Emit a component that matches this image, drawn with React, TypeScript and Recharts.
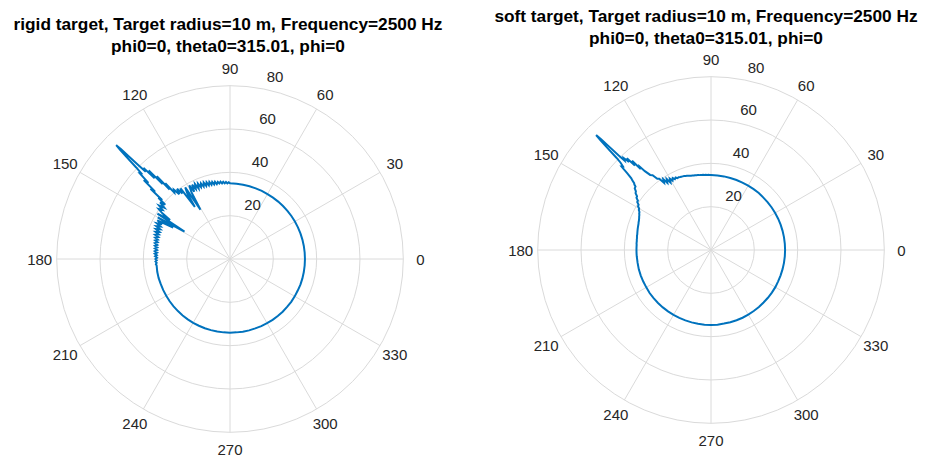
import React from 'react';
import { RadarChart, Radar, PolarGrid, PolarAngleAxis, PolarRadiusAxis } from 'recharts';

// Angle samples (degrees) shared by both panels
const angleDeg = [
  0, 5, 10, 15, 20, 25, 30, 35, 40, 45, 50, 55, 60, 65, 70, 75, 80, 85,
  90, 91, 92, 93, 94, 95, 96, 97, 98, 99, 100, 101, 102, 103, 104, 105, 106, 107, 108, 109,
  110, 111, 112, 113, 114, 115, 116, 117, 118, 119, 120, 121, 122, 123, 124, 125, 126, 127, 128, 129,
  130, 130.5, 131, 131.5, 132, 132.5, 133, 133.5, 134, 134.3, 134.6, 134.8, 135, 135.2, 135.4, 135.7,
  136, 136.5, 137, 137.5, 138, 138.5, 139, 139.5,
  140, 141, 142, 143, 144, 145, 146, 147, 148, 149, 150, 151, 152, 153, 154, 155, 156, 157, 158, 159,
  160, 161, 162, 163, 164, 165, 166, 167, 168, 169, 170, 171, 172, 173, 174, 175, 176, 177, 178, 179,
  180, 181, 182, 183, 184, 185,
  190, 195, 200, 205, 210, 215, 220, 225, 230, 235, 240, 245, 250, 255, 260, 265, 270, 275, 280, 285,
  290, 295, 300, 305, 310, 315, 320, 325, 330, 335, 340, 345, 350, 355,
];

// rigid target level
const rigidLevel = [
  34.6, 34.6, 34.6, 34.6, 34.6, 34.6, 34.6, 34.6, 34.6, 34.6, 34.6, 34.6, 34.6, 34.7, 34.7, 34.8, 34.8, 34.9,
  35.0, 35.4, 34.9, 35.6, 35.0, 35.8, 35.1, 36.0, 35.2, 36.0, 35.1, 36.3, 35.2, 36.5, 35.3, 36.8, 35.4, 37.0, 35.5, 37.3,
  35.6, 37.4, 35.8, 37.8, 35.6, 38.2, 36.0, 38.5, 35.2, 38.8, 35.6, 26.5, 39.0, 36.2, 29.0, 39.8, 37.4, 40.6, 38.0, 41.2,
  40.0, 46.0, 42.5, 51.0, 46.5, 55.5, 51.0, 58.0, 56.0, 60.5, 67.0, 71.5, 74.3, 71.5, 67.0, 60.5,
  57.0, 57.5, 51.5, 54.0, 46.5, 49.0, 41.5, 43.5,
  39.0, 41.5, 38.5, 41.0, 38.5, 40.2, 37.5, 33.0, 39.5, 24.5, 38.5, 30.0, 38.0, 35.2, 37.6, 35.4, 37.2, 35.0, 36.9, 34.9,
  36.6, 34.8, 36.3, 34.6, 35.9, 34.5, 35.6, 34.3, 35.4, 34.2, 35.2, 34.0, 35.0, 33.9, 34.9, 33.8, 34.8, 33.8, 34.6, 33.7,
  34.4, 33.8, 34.4, 33.9, 34.3, 34.0,
  34.1, 34.1, 34.0, 34.0, 34.0, 34.0, 34.0, 34.0, 34.0, 34.0, 34.0, 34.0, 34.0, 34.0, 34.0, 34.0, 34.0, 34.0, 34.1, 34.1,
  34.1, 34.2, 34.2, 34.3, 34.3, 34.4, 34.4, 34.5, 34.5, 34.5, 34.6, 34.6, 34.6, 34.6,
];

// soft target level
const softLevel = [
  34.2, 34.2, 34.2, 34.2, 34.2, 34.2, 34.2, 34.2, 34.2, 34.2, 34.3, 34.3, 34.3, 34.3, 34.4, 34.4, 34.5, 34.5,
  34.6, 34.6, 34.7, 34.7, 34.8, 34.8, 34.9, 34.9, 35.0, 35.0, 35.1, 35.2, 35.3, 35.3, 35.4, 35.5, 35.7, 35.8, 36.0, 36.1,
  36.3, 36.4, 36.5, 36.6, 36.8, 36.6, 37.2, 36.7, 37.6, 36.6, 38.0, 36.3, 38.6, 37.0, 39.4, 37.8, 40.6, 41.2, 43.8, 44.6,
  47.5, 50.5, 49.5, 55.0, 52.5, 57.5, 55.5, 58.5, 57.5, 61.0, 67.5, 72.0, 75.0, 72.0, 67.5, 61.0,
  58.0, 56.0, 56.5, 52.5, 49.5, 48.5, 47.0, 46.5,
  45.5, 45.3, 44.0, 43.6, 42.2, 42.0, 40.7, 40.6, 39.4, 39.3, 38.3, 38.1, 37.4, 37.2, 36.8, 36.6, 36.3, 36.1, 35.9, 35.8,
  35.6, 35.5, 35.4, 35.3, 35.2, 35.1, 35.0, 34.9, 34.8, 34.8, 34.7, 34.6, 34.6, 34.5, 34.5, 34.5, 34.4, 34.4, 34.4, 34.4,
  34.4, 34.4, 34.4, 34.4, 34.4, 34.4,
  34.4, 34.5, 34.5, 34.5, 34.5, 34.6, 34.6, 34.6, 34.6, 34.6, 34.6, 34.6, 34.6, 34.6, 34.6, 34.6, 34.6, 34.6, 34.5, 34.5,
  34.5, 34.5, 34.4, 34.4, 34.4, 34.3, 34.3, 34.3, 34.3, 34.2, 34.2, 34.2, 34.2, 34.2,
];

const angleTicks = [0, 30, 60, 90, 120, 150, 180, 210, 240, 270, 300, 330];
const radiusTicks = [0, 20, 40, 60, 80];

const rigidTitle = ['rigid target, Target radius=10 m, Frequency=2500 Hz', 'phi0=0, theta0=315.01, phi=0'];
const softTitle = ['soft target, Target radius=10 m, Frequency=2500 Hz', 'phi0=0, theta0=315.01, phi=0'];

const chartData = angleDeg.map((a, i) => ({ angle: a, rigid: rigidLevel[i], soft: softLevel[i] }));

const FONT = '"Liberation Sans", Arial, Helvetica, sans-serif';
const LINE = '#0072BD';
const GRID = '#dadada';
const TEXT = '#262626';

function AngleTick(props: any) {
  const { x, y, payload } = props;
  return (
    <text x={x} y={y} textAnchor="middle" dominantBaseline="central" fontSize={15} fill={TEXT} fontFamily={FONT}>
      {payload.value}
    </text>
  );
}

function RadiusTick(props: any) {
  const { x, y, payload } = props;
  if (payload.value === 0) return <g />;
  return (
    <text x={x + 15} y={y - 12} textAnchor="middle" dominantBaseline="central" fontSize={15} fill={TEXT} fontFamily={FONT}>
      {payload.value}
    </text>
  );
}

function Panel({ dataKey, cx, cy, width, height }: { dataKey: string; cx: number; cy: number; width: number; height: number }) {
  return (
    <RadarChart
      width={width}
      height={height}
      cx={cx}
      cy={cy}
      innerRadius={0}
      outerRadius={173.3}
      startAngle={0}
      endAngle={360}
      data={chartData}
      margin={{ top: 0, right: 0, bottom: 0, left: 0 }}
    >
      <PolarGrid gridType="circle" stroke={GRID} strokeWidth={1} polarAngles={angleTicks} />
      <PolarAngleAxis
        dataKey="angle"
        type="number"
        domain={[0, 360]}
        ticks={angleTicks as any}
        tick={<AngleTick />}
        tickLine={false}
        axisLine={false}
        tickSize={17}
      />
      <PolarRadiusAxis
        angle={80}
        type="number"
        domain={[0, 80]}
        ticks={radiusTicks as any}
        tickCount={5}
        tick={<RadiusTick />}
        axisLine={false}
        tickLine={false}
      />
      <Radar
        dataKey={dataKey}
        stroke={LINE}
        strokeWidth={2}
        fill="none"
        fillOpacity={0}
        dot={false}
        isAnimationActive={false}
      />
    </RadarChart>
  );
}

function Title({ lines, center, top }: { lines: string[]; center: number; top: number }) {
  return (
    <div
      style={{
        position: 'absolute',
        left: center - 250,
        width: 500,
        top,
        textAlign: 'center',
        fontFamily: FONT,
        fontWeight: 'bold',
        fontSize: 17.3,
        lineHeight: '22px',
        color: '#000',
        whiteSpace: 'nowrap',
      }}
    >
      {lines.map((l) => (
        <div key={l}>{l}</div>
      ))}
    </div>
  );
}

export default function App() {
  return (
    <div style={{ position: 'absolute', left: 0, top: 0, width: 927, height: 457, background: '#fff', overflow: 'hidden' }}>
      <div style={{ position: 'absolute', left: 0, top: 0 }}>
        <Panel dataKey="rigid" cx={230} cy={259} width={463} height={457} />
      </div>
      <div style={{ position: 'absolute', left: 463, top: 0 }}>
        <Panel dataKey="soft" cx={248} cy={250} width={464} height={457} />
      </div>
      <Title lines={rigidTitle} center={228} top={13.4} />
      <Title lines={softTitle} center={706} top={4.8} />
    </div>
  );
}
